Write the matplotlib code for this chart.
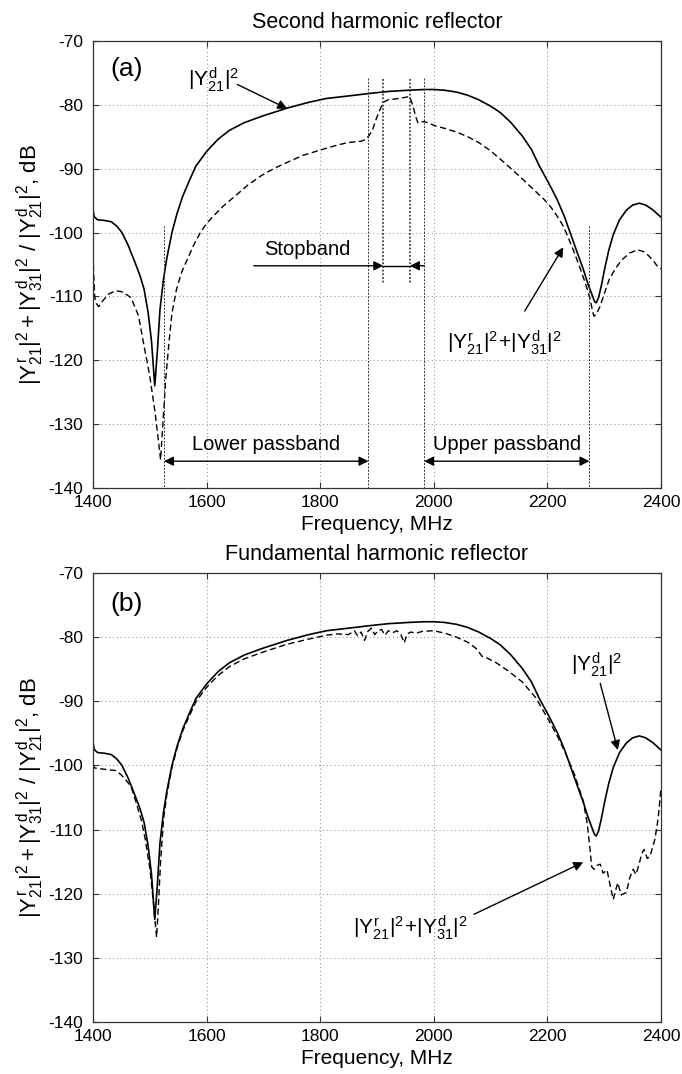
import matplotlib
matplotlib.use("Agg")
import matplotlib.pyplot as plt
import numpy as np

plt.rcParams['font.family'] = ['Liberation Sans', 'DejaVu Sans']
plt.rcParams['mathtext.fontset'] = 'custom'
plt.rcParams['mathtext.rm'] = 'Liberation Sans'
plt.rcParams['mathtext.it'] = 'Liberation Sans'
plt.rcParams['mathtext.bf'] = 'Liberation Sans:bold'
plt.rcParams['axes.unicode_minus'] = False

# ---------------- data: panel (a) second harmonic reflector ----------------
freq_a_solid = [1400, 1402, 1408, 1420, 1432, 1442, 1451, 1462, 1474, 1483, 1490, 1497, 1503,
                1508.7, 1513, 1518, 1524, 1530, 1539, 1548, 1558, 1570, 1581, 1600, 1620, 1640,
                1666, 1700, 1742, 1780, 1811, 1850, 1888, 1920, 1957, 1983, 2000, 2018, 2040,
                2060, 2079, 2100, 2117, 2135, 2156, 2172, 2186, 2202, 2217, 2230, 2240, 2252,
                2263, 2272, 2278, 2283, 2286, 2290, 2295, 2301, 2308, 2316, 2327, 2339, 2350,
                2362, 2373, 2385, 2395, 2400]
y21d_a = [-96.3, -97.5, -98.0, -98.1, -98.3, -99.0, -100.0, -102.0, -104.7, -106.8, -108.9, -112.5,
          -117.0, -124.0, -119.0, -112.0, -107.4, -104.0, -100.0, -97.0, -94.3, -91.8, -89.6, -87.3,
          -85.4, -84.0, -82.8, -81.7, -80.5, -79.6, -79.0, -78.6, -78.2, -77.9, -77.7, -77.6, -77.6,
          -77.7, -78.0, -78.5, -79.2, -80.2, -81.2, -82.7, -84.9, -87.0, -89.6, -92.2, -94.8, -97.5,
          -100.0, -103.0, -105.7, -108.2, -109.6, -110.8, -111.0, -110.2, -108.3, -105.6, -102.8,
          -100.3, -98.0, -96.5, -95.7, -95.4, -95.7, -96.4, -97.2, -97.6]

freq_a_dash = [1400, 1401, 1403, 1405, 1410, 1418, 1428, 1440, 1452, 1467, 1480, 1490, 1500, 1509,
               1515, 1519, 1523, 1528, 1534, 1539, 1547, 1556, 1566, 1577, 1589, 1600, 1612, 1630,
               1650, 1672, 1696, 1720, 1742, 1770, 1803, 1830, 1849, 1872, 1880, 1886, 1892, 1897,
               1903, 1911, 1920, 1930, 1945, 1957, 1960, 1964, 1968, 1972, 1978, 1983, 1995, 2003,
               2020, 2041, 2060, 2079, 2100, 2117, 2135, 2156, 2175, 2194, 2206, 2217, 2226, 2233,
               2245, 2256, 2266, 2275, 2280, 2282, 2286, 2293, 2300, 2309, 2320, 2332, 2345, 2359,
               2370, 2378, 2388, 2393, 2400]
ysum_a = [-103.5, -106.0, -110.0, -111.0, -111.6, -110.6, -109.6, -109.1, -109.3, -110.2, -113.0,
          -117.8, -122.5, -128.0, -132.5, -135.6, -130.0, -123.0, -117.0, -112.6, -108.9, -106.2,
          -104.2, -102.0, -100.0, -98.6, -97.4, -95.8, -94.3, -92.6, -91.1, -89.9, -89.0, -87.9,
          -87.0, -86.3, -85.9, -85.7, -85.4, -84.8, -84.0, -82.6, -81.2, -79.6, -79.2, -79.1, -78.9,
          -78.7, -79.3, -80.4, -81.8, -82.8, -82.7, -82.6, -83.0, -83.3, -83.7, -84.3, -85.0, -85.9,
          -87.2, -88.5, -89.9, -91.6, -93.2, -94.8, -96.0, -97.4, -98.7, -100.0, -102.6, -105.2,
          -107.7, -110.3, -112.5, -113.1, -112.8, -111.5, -109.6, -107.3, -105.6, -104.2, -103.2,
          -102.7, -103.0, -103.6, -104.6, -105.2, -105.7]

# band edges (MHz) for panel (a)
lower_band = [1525, 1885]
upper_band = [1983, 2274]
stop_band = [1911, 1958]

# ---------------- data: panel (b) fundamental harmonic reflector ----------------
freq_b_solid = freq_a_solid
y21d_b = y21d_a

freq_b_dash = [1400, 1403, 1420, 1440, 1450, 1460, 1467, 1475, 1485, 1492, 1500, 1506, 1510, 1512,
               1515, 1519, 1524, 1530, 1539, 1548, 1558, 1570, 1581, 1600, 1620, 1640, 1666, 1700,
               1742, 1780, 1811, 1830, 1850, 1860, 1866, 1872, 1878, 1884, 1890, 1896, 1902, 1908,
               1914, 1920, 1928, 1935, 1942, 1948, 1953, 1960, 1968, 1980, 2000, 2020, 2040, 2060,
               2075, 2085, 2095, 2110, 2130, 2156, 2180, 2202, 2218, 2233, 2248, 2263, 2270, 2275,
               2278, 2282, 2287, 2293, 2298, 2305, 2310, 2316, 2320, 2324, 2330, 2339, 2345, 2351,
               2356, 2362, 2366, 2370, 2376, 2381, 2385, 2389, 2393, 2396, 2400]
ysum_b = [-99.8, -100.4, -100.6, -100.8, -101.5, -102.5, -103.3, -105.5, -108.5, -111.5, -116.0,
          -121.0, -125.0, -126.8, -122.0, -115.0, -108.5, -104.5, -100.3, -97.3, -94.6, -92.2,
          -90.1, -87.8, -86.0, -84.6, -83.4, -82.3, -81.1, -80.3, -79.7, -79.5, -79.6, -79.0,
          -79.8, -79.2, -80.5, -79.1, -78.6, -79.6, -79.0, -78.8, -79.7, -79.0, -79.3, -79.0,
          -79.6, -80.9, -79.5, -79.2, -79.4, -79.1, -79.0, -79.4, -80.0, -80.8, -81.8, -83.0,
          -83.3, -84.0, -85.2, -87.0, -89.5, -92.9, -95.5, -98.3, -101.5, -105.5, -109.0, -113.0,
          -115.8, -116.2, -115.6, -115.4, -116.8, -116.3, -118.5, -120.9, -119.5, -118.3, -120.2,
          -119.8, -117.5, -116.2, -117.0, -115.2, -113.8, -113.1, -114.5, -114.1, -112.8, -111.6,
          -109.5, -107.4, -103.5]

xticks = [1400, 1600, 1800, 2000, 2200, 2400]
yticks = [-140, -130, -120, -110, -100, -90, -80, -70]

ylabel = r'$|Y^{\rm r}_{21}|^2+|Y^{\rm d}_{31}|^2\ /\ |Y^{\rm d}_{21}|^2$, dB'
lab_direct = r'$|Y^{\rm d}_{21}|^2$'
lab_sum = r'$|Y^{\rm r}_{21}|^2\!+\!|Y^{\rm d}_{31}|^2$'

W, H = 682, 1074
fig = plt.figure(figsize=(W / 100, H / 100), dpi=100)
ax_a = fig.add_axes([93 / W, 1 - 488 / H, 568 / W, 447 / H])
ax_b = fig.add_axes([93 / W, 1 - 1022 / H, 568 / W, 449 / H])

dash = (0, (4.5, 2.5))


def style(ax, title):
    ax.set_xlim(1400, 2400)
    ax.set_ylim(-140, -70)
    ax.set_xticks(xticks)
    ax.set_yticks(yticks)
    ax.grid(True, linestyle=(0, (1, 3)), color='#888888', linewidth=0.7)
    ax.tick_params(direction='in', top=True, right=True, length=4, width=0.8,
                   labelsize=12.5, color='#333333')
    ax.tick_params(axis='y', pad=7)
    ax.tick_params(axis='x', pad=5)
    for s in ax.spines.values():
        s.set_linewidth(0.9)
        s.set_color('#333333')
    ax.set_xlabel('Frequency, MHz', fontsize=15, labelpad=4)
    ax.set_ylabel(ylabel, fontsize=16, labelpad=2)
    ax.set_title(title, fontsize=15.5, pad=9)


# ---- panel (a)
style(ax_a, 'Second harmonic reflector')
ax_a.plot(freq_a_solid, y21d_a, color='k', lw=1.2)
ax_a.plot(freq_a_dash, ysum_a, color='k', lw=1.0, linestyle=dash)

vl = dict(color='#333333', lw=0.7, linestyle=(0, (2, 1.5)))
ax_a.plot([lower_band[0]] * 2, [-99, -140], **vl)
ax_a.plot([upper_band[1]] * 2, [-99, -140], **vl)
ax_a.plot([lower_band[1]] * 2, [-75.8, -140], **vl)
ax_a.plot([upper_band[0]] * 2, [-75.8, -140], **vl)
vl2 = dict(color='#222222', lw=1.1, linestyle=(0, (1.2, 1.2)))
ax_a.plot([stop_band[0]] * 2, [-75.9, -108], **vl2)
ax_a.plot([stop_band[1]] * 2, [-75.9, -108], **vl2)

arr = dict(arrowstyle='-|>', color='k', lw=1.0, mutation_scale=14, shrinkA=0, shrinkB=0)
darr = dict(arrowstyle='<|-|>', color='k', lw=1.0, mutation_scale=14, shrinkA=0, shrinkB=0)

ax_a.annotate('', xy=(lower_band[0], -135.8), xytext=(lower_band[1], -135.8), arrowprops=darr)
ax_a.annotate('', xy=(upper_band[0], -135.8), xytext=(upper_band[1], -135.8), arrowprops=darr)
ax_a.text(np.mean(lower_band), -133.2, 'Lower passband', fontsize=14.5, ha='center', va='center')
ax_a.text(np.mean(upper_band), -133.2, 'Upper passband', fontsize=14.5, ha='center', va='center')

ax_a.annotate('', xy=(stop_band[0], -105.2), xytext=(1683, -105.2), arrowprops=arr)
ax_a.annotate('', xy=(stop_band[1], -105.2), xytext=(upper_band[0], -105.2), arrowprops=arr)
ax_a.plot([stop_band[0], stop_band[1]], [-105.2, -105.2], color='k', lw=1.0)
ax_a.text(1777, -102.6, 'Stopband', fontsize=14.5, ha='center', va='center')

ax_a.text(1459, -74.4, '(a)', fontsize=19, ha='center', va='center')
ax_a.text(1612, -76.0, lab_direct, fontsize=15, ha='center', va='center')
ax_a.annotate('', xy=(1742, -80.6), xytext=(1654, -76.8), arrowprops=arr)
ax_a.text(2125, -117.3, lab_sum, fontsize=15, ha='center', va='center')
ax_a.annotate('', xy=(2228, -102.3), xytext=(2160, -112.3), arrowprops=arr)

# ---- panel (b)
style(ax_b, 'Fundamental harmonic reflector')
ax_b.plot(freq_b_solid, y21d_b, color='k', lw=1.2)
ax_b.plot(freq_b_dash, ysum_b, color='k', lw=1.0, linestyle=dash)

ax_b.text(1459, -74.9, '(b)', fontsize=19, ha='center', va='center')
ax_b.text(2287, -84.3, lab_direct, fontsize=15, ha='center', va='center')
ax_b.annotate('', xy=(2324, -97.6), xytext=(2293, -87.2), arrowprops=arr)
ax_b.text(1959, -125.3, lab_sum, fontsize=15, ha='center', va='center')
ax_b.annotate('', xy=(2263, -115.1), xytext=(2071, -123.2), arrowprops=arr)

fig.savefig('out.png', dpi=100)
